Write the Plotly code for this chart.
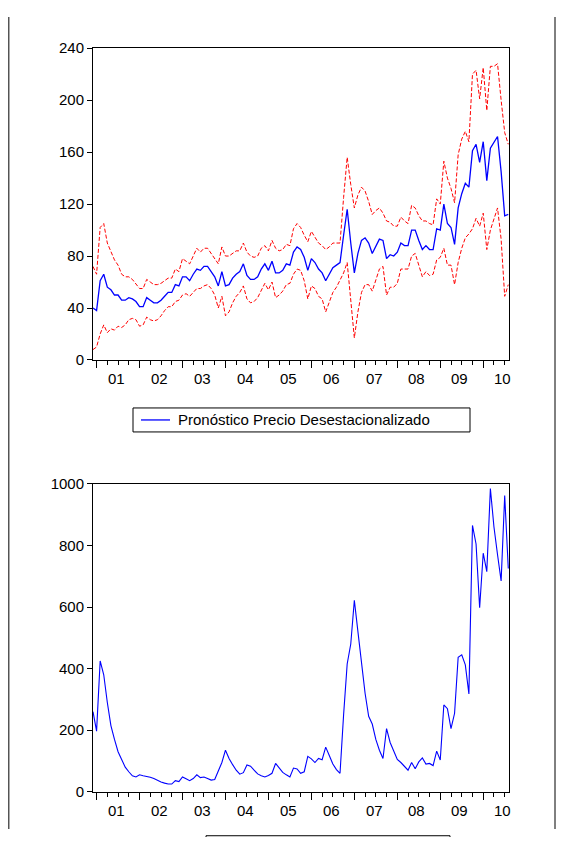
import plotly.graph_objects as go

forecast = [40,38,61,66,56,54,50,50,46,46,48,47,45,41,41,48,46,44,44,46,49,52,52,58,57,64,64,61,66,70,69,72,72,68,64,57,68,57,58,63,66,68,74,65,62,62,64,70,74,69,76,67,67,69,74,73,83,87,85,79,69,78,75,70,67,61,66,71,73,75,96,116,90,67,82,92,94,90,82,88,93,92,78,81,80,83,90,88,88,100,100,92,85,88,85,85,101,100,120,105,102,89,117,128,136,133,161,166,152,168,138,163,168,172,145,111,112]
upper = [72,66,102,105,90,84,77,73,66,64,64,62,58,55,55,62,60,58,58,59,61,63,63,70,68,78,76,74,80,86,83,86,86,82,78,74,87,80,80,82,84,84,90,83,80,79,80,86,88,84,92,86,84,85,89,88,101,105,102,96,91,99,95,90,88,85,87,90,90,90,125,156,135,117,127,133,130,122,112,115,117,113,107,106,103,103,110,107,105,119,117,111,107,107,105,104,124,120,153,140,132,121,158,170,176,168,220,223,201,225,192,226,226,228,200,175,166]
lower = [8,10,20,27,21,24,23,26,25,27,31,32,31,26,27,33,31,30,31,34,38,41,41,45,46,50,51,49,52,55,55,57,58,55,50,40,49,34,37,44,49,52,57,47,44,45,48,54,59,54,60,48,50,53,58,59,66,70,69,61,47,57,55,49,47,37,45,52,56,61,67,75,45,17,37,52,58,58,53,62,70,72,50,56,56,59,70,70,70,80,82,73,64,68,65,66,77,79,86,73,73,58,75,86,94,97,101,109,103,113,85,100,108,117,93,49,58]
series2 = [260,197,425,380,290,215,170,130,105,80,65,52,48,55,52,50,47,43,37,32,28,25,25,36,33,48,42,36,43,55,46,48,43,38,40,68,95,135,108,88,70,57,62,87,83,70,58,52,48,53,60,92,78,63,55,48,77,74,60,65,115,107,95,108,104,145,118,90,72,60,250,415,480,622,520,410,320,245,220,170,135,108,205,160,135,105,95,82,70,95,75,97,110,90,92,85,132,103,282,270,205,255,437,445,412,318,865,805,598,775,715,985,860,770,685,962,725]
year_labels = ["01","02","03","04","05","06","07","08","09","10"]

months = list(range(len(forecast)))  # 0 = Dec 2000
W, H = 555, 829
OX, OY = 8, 8
def px(x): return (x - OX) / W
def py(y):
    t = (y - 9) / 0.98
    return 1 - (t - OY) / H

FONT = "Liberation Sans, Arial, sans-serif"
DASH = "4px,2px"
fig = go.Figure()
fig.add_trace(go.Scatter(x=months, y=upper, mode="lines", line=dict(color="red", width=1, dash=DASH), xaxis="x", yaxis="y"))
fig.add_trace(go.Scatter(x=months, y=lower, mode="lines", line=dict(color="red", width=1, dash=DASH), xaxis="x", yaxis="y"))
fig.add_trace(go.Scatter(x=months, y=forecast, mode="lines", line=dict(color="blue", width=1.3), xaxis="x", yaxis="y"))
fig.add_trace(go.Scatter(x=months, y=series2, mode="lines", line=dict(color="blue", width=1.1), xaxis="x2", yaxis="y2"))

year_ticks = [1 + 12 * k for k in range(len(year_labels))]
xr = [0, len(forecast) - 0.8]
xd = [px(93), px(509)]
xcommon = dict(range=xr, domain=xd, tickvals=year_ticks, ticks="outside", ticklen=7, tickcolor="black",
               showticklabels=False, showgrid=False, zeroline=False, showline=True, linecolor="black",
               linewidth=1, mirror=True,
               minor=dict(tickvals=[1 + 3 * k for k in range(40) if (3 * k) % 12 != 0], ticks="outside", ticklen=4, tickcolor="black"))
ycommon = dict(ticks="outside", ticklen=5, tickcolor="black", showgrid=False, zeroline=False, showline=True,
               linecolor="black", linewidth=1, mirror=True, tickfont=dict(family=FONT, size=15, color="black"))
fig.update_layout(
    width=W, height=H, margin=dict(l=0, r=0, t=0, b=0), showlegend=False,
    paper_bgcolor="white", plot_bgcolor="white",
    xaxis=dict(**xcommon, anchor="y"),
    xaxis2=dict(**xcommon, anchor="y2"),
    yaxis=dict(**ycommon, range=[0, 240], tickvals=[0, 40, 80, 120, 160, 200, 240], domain=[py(360), py(48)], anchor="x"),
    yaxis2=dict(**ycommon, range=[0, 1000], tickvals=[0, 200, 400, 600, 800, 1000], domain=[py(792), py(484)], anchor="x2"),
)
ann = []
for i, lab in enumerate(year_labels):
    for xa, ya in (("x", "y domain"), ("x2", "y2 domain")):
        ann.append(dict(x=year_ticks[i] + 5.5, y=0, xref=xa, yref=ya, yanchor="top", yshift=-8, text=lab,
                        showarrow=False, font=dict(family=FONT, size=15, color="black")))
ann.append(dict(x=px(176), y=py(420), xref="paper", yref="paper", xanchor="left", yanchor="middle",
                text="Pronóstico Precio Desestacionalizado", showarrow=False, font=dict(family=FONT, size=15, color="black")))
fig.update_layout(annotations=ann)
shapes = [
    dict(type="rect", xref="paper", yref="paper", x0=px(133), x1=px(470), y0=py(432), y1=py(408), line=dict(color="black", width=1)),
    dict(type="line", xref="paper", yref="paper", x0=px(141), x1=px(170), y0=py(420), y1=py(420), line=dict(color="blue", width=1.3)),
    dict(type="rect", xref="paper", yref="paper", x0=px(206), x1=px(450), y0=-0.05, y1=py(836), line=dict(color="black", width=1)),
    dict(type="line", xref="paper", yref="paper", x0=0.0015, x1=0.0015, y0=0, y1=1, line=dict(color="black", width=1)),
    dict(type="line", xref="paper", yref="paper", x0=px(555), x1=px(555), y0=0, y1=1, line=dict(color="black", width=1)),
]
fig.update_layout(shapes=shapes)
fig.write_html("out.html")
